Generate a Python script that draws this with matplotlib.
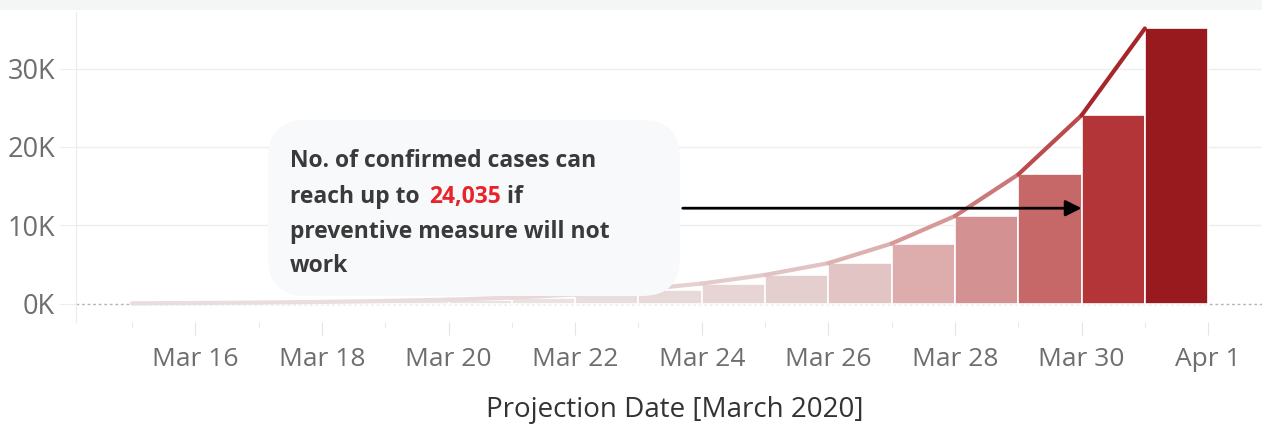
"""Projected confirmed cases, March 2020 (bar + line, Tableau look)."""

import matplotlib

matplotlib.use("Agg")
import matplotlib.pyplot as plt  # noqa: E402
import matplotlib.dates as mdates  # noqa: E402
import numpy as np  # noqa: E402
import pandas as pd  # noqa: E402
from matplotlib.collections import LineCollection  # noqa: E402
from matplotlib.colors import LinearSegmentedColormap  # noqa: E402
from matplotlib.patches import FancyBboxPatch, Rectangle  # noqa: E402
from matplotlib.transforms import IdentityTransform  # noqa: E402

# --- data ---------------------------------------------------------------
DATES = ["2020-03-15", "2020-03-16", "2020-03-17", "2020-03-18", "2020-03-19",
         "2020-03-20", "2020-03-21", "2020-03-22", "2020-03-23", "2020-03-24",
         "2020-03-25", "2020-03-26", "2020-03-27", "2020-03-28", "2020-03-29",
         "2020-03-30", "2020-03-31"]
CASES = [82, 120, 175, 260, 380, 550, 800, 1200, 1800, 2600,
         3700, 5200, 7700, 11200, 16500, 24035, 35100]
TICK_DATES = ["2020-03-16", "2020-03-18", "2020-03-20", "2020-03-22", "2020-03-24",
              "2020-03-26", "2020-03-28", "2020-03-30", "2020-04-01"]
TICK_LABELS = ["Mar 16", "Mar 18", "Mar 20", "Mar 22", "Mar 24",
               "Mar 26", "Mar 28", "Mar 30", "Apr 1"]
Y_TICKS = [0, 10000, 20000, 30000]
Y_LABELS = ["0K", "10K", "20K", "30K"]
HIGHLIGHT = "24,035"

W, H = 1262, 428
GREY_TXT = "#6e6e6e"
FONT = ["Open Sans", "DejaVu Sans"]

cmap = LinearSegmentedColormap.from_list("reds", [
    (0.00, "#ebe5e5"), (0.15, "#e2c3c3"), (0.22, "#dcadac"), (0.32, "#d39090"),
    (0.47, "#c76868"), (0.685, "#b33538"), (1.00, "#981a1e")])

x = mdates.date2num(pd.to_datetime(DATES))
y = np.array(CASES, dtype=float)
vmax = y.max()

fig = plt.figure(figsize=(W / 100, H / 100), dpi=100)
fig.patches.append(Rectangle((0, 1 - 10 / H), 1, 10 / H, transform=fig.transFigure,
                             facecolor="#f4f5f5", edgecolor="none"))
ax = fig.add_axes([76 / W, (H - 322) / H, 1 - 76 / W, (322 - 12) / H])

# bars span [date, date + 1], coloured by value
ax.bar(x, y, width=1.0, align="edge", color=cmap(y / vmax),
       edgecolor="white", linewidth=1.2, zorder=3)

# line through the bar top-left corners, coloured by value
pts = np.column_stack([x, y])
segs = np.stack([pts[:-1], pts[1:]], axis=1)
lc = LineCollection(segs, colors=cmap(0.5 * (y[:-1] + y[1:]) / vmax * 0.97 + 0.03),
                    linewidths=3.0, capstyle="round", joinstyle="round", zorder=4)
ax.add_collection(lc)

ax.axhline(0, color="#b5b5b5", lw=1, ls=(0, (2, 2)), zorder=1)
for v in Y_TICKS[1:]:
    ax.axhline(v, color="#eeeeee", lw=1, zorder=0)

x0 = mdates.date2num(pd.Timestamp("2020-03-15"))
ax.set_xlim(x0 - 0.885, x0 + 17.85)
ax.set_ylim(-2300, 37200)

ax.set_xticks(mdates.date2num(pd.to_datetime(TICK_DATES)))
ax.set_xticklabels(TICK_LABELS)
ax.set_xticks(x, minor=True)
ax.tick_params(axis="x", which="major", length=9, color="#e4e4e4", pad=9,
               labelsize=19, labelcolor=GREY_TXT)
ax.tick_params(axis="x", which="minor", length=4, color="#e4e4e4")
ax.set_yticks(Y_TICKS)
ax.set_yticklabels(Y_LABELS)
ax.tick_params(axis="y", length=12, color="#eeeeee", pad=3,
               labelsize=19.5, labelcolor=GREY_TXT)
for lab in ax.get_xticklabels() + ax.get_yticklabels():
    lab.set_family(FONT)

for s in ("top", "right", "bottom"):
    ax.spines[s].set_visible(False)
ax.spines["left"].set_color("#ececec")

fig.text(0.5 * (485 + 865) / W, 1 - 410 / H, "Projection Date [March 2020]",
         ha="center", va="center", fontsize=20, color="#333333", family=FONT)

# annotation box (pixel coordinates so the corner radius stays round)
box = FancyBboxPatch((268, H - 296), 680 - 268, 296 - 120,
                     boxstyle="round,pad=0,rounding_size=38",
                     transform=IdentityTransform(), facecolor="#f8f9fb",
                     edgecolor="none", zorder=5)
fig.patches.append(box)

tkw = dict(fontsize=16.5, fontweight="bold", color="#3a3a3a", family=FONT,
           va="center", ha="left", zorder=6)
tx = 290 / W
fig.text(tx, 1 - 161 / H, "No. of confirmed cases can", **tkw)
t1 = fig.text(tx, 1 - 197 / H, "reach up to ", **tkw)
fig.text(tx, 1 - 232 / H, "preventive measure will not", **tkw)
fig.text(tx, 1 - 266 / H, "work", **tkw)

fig.canvas.draw()
r = fig.canvas.get_renderer()
e1 = t1.get_window_extent(r)
t2 = fig.text(e1.x1 / W + 4 / W, 1 - 197 / H, HIGHLIGHT,
              **{**tkw, "color": "#e8232b"})
e2 = t2.get_window_extent(r)
fig.text(e2.x1 / W, 1 - 197 / H, " if", **tkw)

ax.annotate("", xy=(x[15], 12200), xytext=(x0 + 8.7, 12200),
            arrowprops=dict(arrowstyle="-|>", color="black", lw=2,
                            mutation_scale=24, shrinkA=0, shrinkB=0),
            zorder=7)

fig.savefig("out.png", dpi=100)
